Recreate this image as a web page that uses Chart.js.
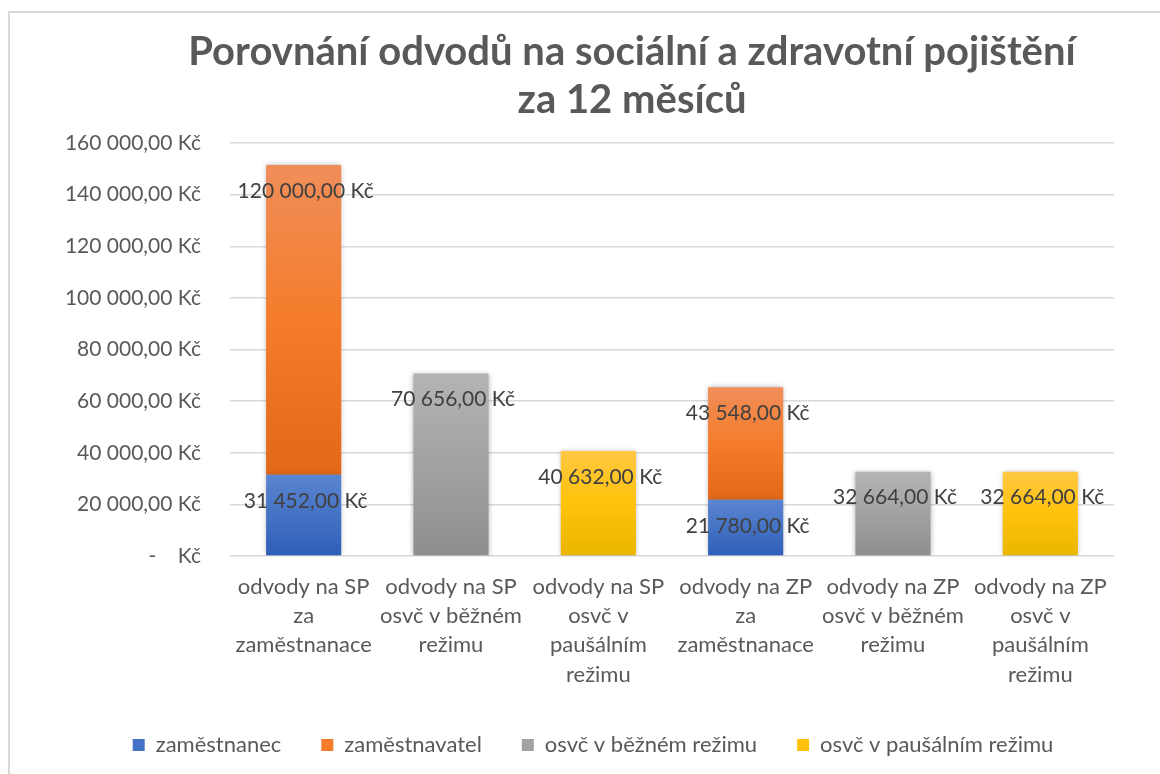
<!DOCTYPE html>
<html>
<head>
<meta charset="utf-8">
<script src="https://cdn.jsdelivr.net/npm/chart.js@4.4.1/dist/chart.umd.min.js"></script>
<style>
    html, body { margin: 0; padding: 0; background: #fff; overflow: hidden; }
    #wrap { position: relative; width: 1160px; height: 774px; }
    #frame { position: absolute; left: 8px; top: 11px; width: 1200px; height: 800px; border: 2px solid #d9d9d9; box-sizing: border-box; }
    #myChart { position: absolute; left: 0; top: 0; }
</style>
</head>
<body>
<div id="wrap">
    <div id="frame"></div>
    <canvas id="myChart" width="1160" height="774"></canvas>
</div>
<script>
    "use strict";

    const titleLines = ["Porovnání odvodů na sociální a zdravotní pojištění", "za 12 měsíců"];
    const categories = [
        ["odvody na SP", "za", "zaměstnanace"],
        ["odvody na SP", "osvč v běžném", "režimu"],
        ["odvody na SP", "osvč v", "paušálním", "režimu"],
        ["odvody na ZP", "za", "zaměstnanace"],
        ["odvody na ZP", "osvč v běžném", "režimu"],
        ["odvody na ZP", "osvč v", "paušálním", "režimu"]
    ];
    const seriesNames = ["zaměstnanec", "zaměstnavatel", "osvč v běžném režimu", "osvč v paušálním režimu"];
    const zamestnanec = [31452, null, null, 21780, null, null];
    const zamestnavatel = [120000, null, null, 43548, null, null];
    const osvcBezny = [null, 70656, null, null, 32664, null];
    const osvcPausal = [null, null, 40632, null, null, 32664];
    const yTicks = [0, 20000, 40000, 60000, 80000, 100000, 120000, 140000, 160000];

    const gradientStops = [
        ["#5b85d1", "#4472c4", "#2e5eb8"],
        ["#f08e5a", "#f47c2a", "#e36818"],
        ["#b4b4b4", "#a2a2a2", "#8e8e8e"],
        ["#ffc843", "#ffc20a", "#e9b600"]
    ];
    const allSeries = [zamestnanec, zamestnavatel, osvcBezny, osvcPausal];

    function kc(v) {
        if (v === 0) return "-    Kč";
        return Math.round(v).toString().replace(/\B(?=(\d{3})+(?!\d))/g, " ") + ",00 Kč";
    }

    function segmentFill(dsIndex) {
        return function (c) {
            const chart = c.chart;
            const y = chart.scales.y;
            const i = c.dataIndex;
            if (!y || i === undefined) return gradientStops[dsIndex][1];
            let base = 0;
            for (let k = 0; k < dsIndex; k++) base += allSeries[k][i] || 0;
            const top = base + (allSeries[dsIndex][i] || 0);
            const y0 = y.getPixelForValue(top);
            const y1 = y.getPixelForValue(base);
            if (!isFinite(y0) || !isFinite(y1) || y0 === y1) return gradientStops[dsIndex][1];
            const g = chart.ctx.createLinearGradient(0, y0, 0, y1);
            g.addColorStop(0, gradientStops[dsIndex][0]);
            g.addColorStop(0.5, gradientStops[dsIndex][1]);
            g.addColorStop(1, gradientStops[dsIndex][2]);
            return g;
        };
    }

    // title drawn by hand: it sits off the legend's centre in the original
    const titleDraw = {
        id: "titleDraw",
        afterLayout(chart) {
            // legend is a bit right of the canvas centre
            if (chart.legend) {
                chart.legend.left += 11;
                chart.legend.right += 11;
            }
        },
        afterDraw(chart) {
            const ctx = chart.ctx;
            ctx.save();
            ctx.font = "bold 40px Lato";
            ctx.fillStyle = "#595959";
            ctx.textAlign = "center";
            ctx.textBaseline = "middle";
            titleLines.forEach(function (t, i) {
                ctx.fillText(t, 632, 52 + i * 48);
            });
            ctx.restore();
        }
    };

    // shadow under bars + labels "inside end"
    const barDecor = {
        id: "barDecor",
        beforeDatasetsDraw(chart) {
            const ctx = chart.ctx;
            ctx.save();
            ctx.shadowColor = "rgba(0,0,0,0.30)";
            ctx.shadowBlur = 5;
        },
        afterDatasetsDraw(chart) {
            const ctx = chart.ctx;
            ctx.restore();
            ctx.save();
            ctx.font = "21px Lato";
            ctx.fillStyle = "#404040";
            ctx.textAlign = "center";
            ctx.textBaseline = "middle";
            chart.data.datasets.forEach(function (ds, di) {
                chart.getDatasetMeta(di).data.forEach(function (bar, i) {
                    const v = ds.data[i];
                    if (v === null || v === undefined) return;
                    ctx.fillText(kc(v), bar.x + 2, bar.y + 26);
                });
            });
            ctx.restore();
        }
    };

    const ctx = document.getElementById("myChart");
    new Chart(ctx, {
        type: "bar",
        data: {
            labels: categories,
            datasets: allSeries.map(function (d, k) {
                return {
                    label: seriesNames[k],
                    data: d,
                    backgroundColor: segmentFill(k),
                    borderWidth: 0,
                    categoryPercentage: 1,
                    barPercentage: 0.51,
                    skipNull: true
                };
            })
        },
        options: {
            responsive: false,
            animation: false,
            devicePixelRatio: 1,
            layout: {
                padding: {left: 50, right: 46, top: 143, bottom: 8}
            },
            plugins: {
                title: {display: false},
                legend: {
                    position: "bottom",
                    labels: {
                        color: "#595959",
                        font: {family: "Lato", size: 22},
                        boxWidth: 12,
                        boxHeight: 12,
                        padding: 40,
                        generateLabels(chart) {
                            return chart.data.datasets.map(function (ds, k) {
                                return {
                                    text: ds.label,
                                    fillStyle: gradientStops[k][1],
                                    strokeStyle: gradientStops[k][1],
                                    lineWidth: 0,
                                    fontColor: "#595959",
                                    datasetIndex: k
                                };
                            });
                        }
                    }
                },
                tooltip: {enabled: false}
            },
            scales: {
                x: {
                    stacked: true,
                    grid: {display: false, drawTicks: false},
                    border: {display: false},
                    ticks: {
                        color: "#595959",
                        font: {family: "Lato", size: 22, lineHeight: 1.33},
                        padding: 16,
                        maxRotation: 0,
                        autoSkip: false
                    },
                    afterFit(scale) {
                        scale.height = 138;
                    }
                },
                y: {
                    stacked: true,
                    min: 0,
                    max: 160000,
                    afterBuildTicks(scale) {
                        scale.ticks = yTicks.map(function (v) { return {value: v}; });
                    },
                    grid: {color: "#d9d9d9", lineWidth: 1.5, drawTicks: false},
                    border: {display: false},
                    ticks: {
                        color: "#595959",
                        font: {family: "Lato", size: 21},
                        padding: 29,
                        callback: function (v) { return kc(v); }
                    },
                    afterFit(scale) {
                        scale.width = 180;
                    }
                }
            }
        },
        plugins: [barDecor, titleDraw]
    });
</script>
</body>
</html>
